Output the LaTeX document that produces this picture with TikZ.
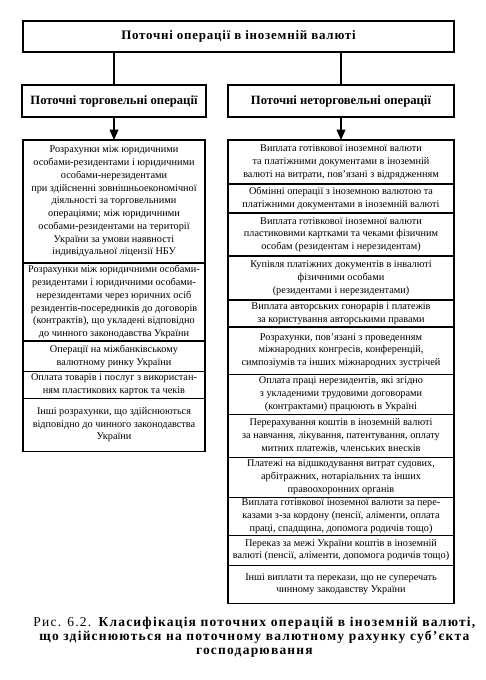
\documentclass[tikz,border=0pt]{standalone}
\usepackage{fontspec}
\setmainfont{Liberation Serif}
\newfontfamily\widefont[LetterSpace=6]{Liberation Serif}
\newfontfamily\capfont[LetterSpace=9]{Liberation Serif}
\usetikzlibrary{positioning,arrows.meta}

\begin{document}
\begin{tikzpicture}[x=0.025cm, y=-0.025cm, line width=0.8pt,
  >={Triangle[length=2.6mm, width=2.2mm]},
  headbox/.style={draw, align=center, minimum width=10.775cm, minimum height=0.775cm,
    font=\widefont\bfseries\fontsize{9.2}{11}\selectfont},
  kindbox/.style={draw, align=center, minimum height=0.8cm,
    font=\bfseries\fontsize{9}{10}\selectfont},
  itembox/.style={draw, align=center, inner xsep=0.5pt, inner ysep=1pt, outer sep=0pt,
    font=\fontsize{7.3}{9.1}\selectfont},
  leftbox/.style={itembox, minimum width=4.55cm},
  rightbox/.style={itembox, minimum width=5.65cm}]

  \useasboundingbox (0,0) rectangle (486,680);

  % Main heading and the two kinds of operations
  \node[headbox] (top) at (238.5,36.5) {Поточні операції в іноземній валюті};
  \node[kindbox, minimum width=4.6cm] (trade) at (114,101) {Поточні торговельні операції};
  \node[kindbox, minimum width=5.65cm] (nontrade) at (341,101) {Поточні неторговельні операції};
  \draw (trade |- top.south) -- (trade);
  \draw (nontrade |- top.south) -- (nontrade);

  % Trade operations (left column)
  \node[leftbox, minimum height=3.075cm, anchor=north] (l1) at (114,140)
    {Розрахунки між юридичними\\ особами-резидентами і юридичними\\ особами-нерезидентами\\
     при здійсненні зовнішньоекономічної\\ діяльності за торговельними\\ операціями; між юридичними\\
     особами-резидентами на території\\ України за умови наявності\\ індивідуальної ліцензії НБУ};
  \node[leftbox, minimum height=1.95cm, below=0pt of l1] (l2)
    {Розрахунки між юридичними особами-\\ резидентами і юридичними особами-\\ нерезидентами через юричних осіб\\
     резидентів-посередників до договорів\\ (контрактів), що укладені відповідно\\ до чинного законодавства України};
  \node[leftbox, minimum height=0.75cm, below=0pt of l2] (l3)
    {Операції на міжбанківському\\ валютному ринку України};
  \node[leftbox, minimum height=0.675cm, below=0pt of l3] (l4)
    {Оплата товарів і послуг з використан-\\ням пластикових карток та чеків};
  \node[leftbox, minimum height=1.325cm, below=0pt of l4] (l5)
    {Інші розрахунки, що здійснюються\\ відповідно до чинного законодавства\\ України};
  \draw[->] (trade) -- (trade |- l1.north);

  % Non-trade operations (right column)
  \node[rightbox, minimum height=1.1cm, anchor=north] (r1) at (341,140)
    {Виплата готівкової іноземної валюти\\ та платіжними документами в іноземній\\ валюті на витрати, пов’язані з відрядженням};
  \node[rightbox, minimum height=0.725cm, below=0pt of r1] (r2)
    {Обмінні операції з іноземною валютою та\\ платіжними документами в іноземній валюті};
  \node[rightbox, minimum height=1.075cm, below=0pt of r2] (r3)
    {Виплата готівкової іноземної валюти\\ пластиковими картками та чеками фізичним\\ особам (резидентам і нерезидентам)};
  \node[rightbox, minimum height=1.1cm, below=0pt of r3] (r4)
    {Купівля платіжних документів в інвалюті\\ фізичними особами\\ (резидентами і нерезидентами)};
  \node[rightbox, minimum height=0.675cm, below=0pt of r4] (r5)
    {Виплата авторських гонорарів і платежів\\ за користування авторськими правами};
  \node[rightbox, minimum height=1.175cm, below=0pt of r5] (r6)
    {Розрахунки, пов’язані з проведенням\\ міжнародних конгресів, конференцій,\\ симпозіумів та інших міжнародних зустрічей};
  \node[rightbox, minimum height=1.0cm, below=0pt of r6] (r7)
    {Оплата праці нерезидентів, які згідно\\ з укладеними трудовими договорами\\ (контрактами) працюють в Україні};
  \node[rightbox, minimum height=1.075cm, below=0pt of r7] (r8)
    {Перерахування коштів в іноземній валюті\\ за навчання, лікування, патентування, оплату\\ митних платежів, членських внесків};
  \node[rightbox, minimum height=1.0cm, below=0pt of r8] (r9)
    {Платежі на відшкодування витрат судових,\\ арбітражних, нотаріальних та інших\\ правоохоронних органів};
  \node[rightbox, minimum height=0.95cm, below=0pt of r9] (r10)
    {Виплата готівкової іноземної валюти за пере-\\казами з-за кордону (пенсії, аліменти, оплата\\ праці, спадщина, допомога родичів тощо)};
  \node[rightbox, minimum height=0.75cm, below=0pt of r10] (r11)
    {Переказ за межі України коштів в іноземній\\ валюті (пенсії, аліменти, допомога родичів тощо)};
  \node[rightbox, minimum height=0.95cm, below=0pt of r11] (r12)
    {Інші виплати та перекази, що не суперечать\\ чинному закодавству України};
  \draw[->] (nontrade) -- (nontrade |- r1.north);

  % Figure caption
  \node[align=center, font=\capfont\fontsize{9.6}{9.8}\selectfont] (caption) at (255,637)
    {Рис. 6.2. \textbf{Класифікація поточних операцій в іноземній валюті,}\\
     \textbf{що здійснюються на поточному валютному рахунку суб’єкта}\\
     \textbf{господарювання}};

\end{tikzpicture}
\end{document}
